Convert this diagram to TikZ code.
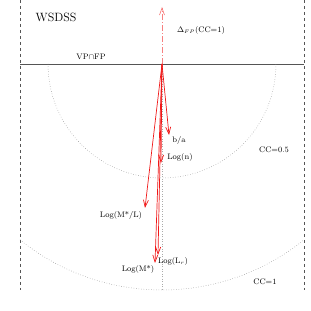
\documentclass[tikz,border=0pt]{standalone}
\usepackage{amsmath,amssymb}
\usetikzlibrary{arrows.meta,positioning,calc}
\definecolor{Vec}{HTML}{F01818}
\definecolor{Grid}{HTML}{555555}
\tikzset{
 lbl/.style={font=\footnotesize,inner sep=0pt},
 vec/.style={-{Straight Barb[length=7pt,width=5pt]},line width=.7pt,draw=Vec},
 fpvec/.style={vec,draw=Vec!55,dash pattern=on 6pt off 2pt on 1pt off 2pt},
 edge/.style={dashed,draw=Grid,line width=.5pt},
 ccarc/.style={dotted,draw=Grid!70,line width=.5pt}
}
\begin{document}
\begin{tikzpicture}[x=1pt,y=1pt]
\useasboundingbox (0,0) rectangle (311,311);
\coordinate (O) at (162,247);
% survey edges and the VP-FP line
\draw[edge] (20,311) -- (20,21);
\draw[edge] (304,311) -- (304,21);
\draw[Grid,line width=.5pt] (20,247) -- (304,247);
% CC circles
\draw[ccarc] (O) ++(-114,0) arc[start angle=180,end angle=360,radius=114];
\draw[ccarc] (O) ++(231.1:226) arc[start angle=231.1,end angle=308.9,radius=226];
\draw[ccarc,draw=Grid!50] (O) -- (162,21);
% vectors
\coordinate (fp) at (162,304);
\coordinate (ba) at (169,176);
\coordinate (n) at (161,148);
\coordinate (ml) at (145,103);
\coordinate (ms) at (155,48);
\coordinate (lr) at (158,56);
\draw[fpvec] (O) -- (fp);
\foreach \t in {ba,n,ml,ms,lr} \draw[vec] (O) -- (\t);
% labels
\node[lbl,font=\large] (title) at (56,294) {WSDSS};
\node[lbl] (fplbl) at (201,280) {$\Delta_{\scriptscriptstyle FP}$(CC=1)};
\node[lbl] (vpfp) at (91,254) {VP$\cap$FP};
\node[lbl] (balbl) at (179,170) {b/a};
\node[lbl] (nlbl) at (180,153) {Log(n)};
\node[lbl] (cchalf) at (274,161) {CC=0.5};
\node[lbl] (mllbl) at (121,95) {Log(M*/L)};
\node[lbl] (lrlbl) at (173,49) {Log(L$_{\scriptscriptstyle r}$)};
\node[lbl] (mslbl) at (138,41) {Log(M*)};
\node[lbl] (ccone) at (265,29) {CC=1};
\end{tikzpicture}
\end{document}
